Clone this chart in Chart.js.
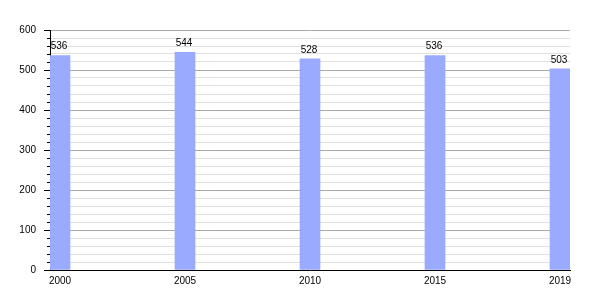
<!DOCTYPE html>
<html>
<head>
<meta charset="utf-8">
<script src="https://cdn.jsdelivr.net/npm/chart.js@4"></script>
<style>
  body { margin: 0; background: #fff; }
  #wrap { width: 600px; height: 300px; }
</style>
</head>
<body>
<div id="wrap"><canvas id="chart"></canvas></div>
<script>
    const years = ['2000', '2005', '2010', '2015', '2019'];
    const values = [536, 544, 528, 536, 503];

    const font = { family: '"Liberation Sans", Arial, sans-serif', size: 10 };

    // value labels above the bars
    const barLabels = {
        id: 'barLabels',
        afterDatasetsDraw(chart) {
            const ctx = chart.ctx;
            const meta = chart.getDatasetMeta(0);
            ctx.save();
            ctx.fillStyle = '#000';
            ctx.font = '10px "Liberation Sans", Arial, sans-serif';
            ctx.textAlign = 'center';
            ctx.textBaseline = 'bottom';
            meta.data.forEach((bar, i) => {
                ctx.fillText(values[i], bar.x - 1, bar.y - 4);
            });
            ctx.restore();
        }
    };

    // small tick marks left of the y axis
    const yTicks = {
        id: 'yTicks',
        afterDraw(chart) {
            const ctx = chart.ctx;
            const y = chart.scales.y;
            const left = chart.chartArea.left;
            ctx.save();
            ctx.strokeStyle = '#000';
            ctx.lineWidth = 1;
            y.ticks.forEach(t => {
                const py = Math.round(y.getPixelForValue(t.value)) + 0.5;
                const len = t.value % 100 === 0 ? 6 : 3;
                ctx.beginPath();
                ctx.moveTo(left - len, py);
                ctx.lineTo(left, py);
                ctx.stroke();
            });
            ctx.restore();
        }
    };

    new Chart(document.getElementById('chart'), {
        type: 'bar',
        data: {
            datasets: [{
                data: values.map((v, i) => ({ x: i, y: v })),
                backgroundColor: '#99aaff',
                barThickness: 20
            }]
        },
        options: {
            responsive: true,
            maintainAspectRatio: false,
            animation: false,
            layout: { padding: { top: 30, right: 30, left: 0, bottom: 0 } },
            plugins: { legend: { display: false }, tooltip: { enabled: false } },
            scales: {
                x: {
                    type: 'linear',
                    offset: false,
                    min: -0.08,
                    max: 4.08,
                    afterBuildTicks: scale => {
                        scale.ticks = years.map((_, i) => ({ value: i }));
                    },
                    afterFit: scale => { scale.height = 30; },
                    grid: { display: false, drawTicks: false },
                    border: { color: '#000' },
                    ticks: {
                        color: '#000',
                        font: font,
                        padding: 5,
                        maxRotation: 0,
                        autoSkip: false,
                        callback: value => years[value]
                    }
                },
                y: {
                    min: 0,
                    max: 600,
                    afterFit: scale => { scale.width = 50; },
                    grid: {
                        drawTicks: false,
                        color: ctx => ctx.tick && ctx.tick.value % 100 === 0 ? '#aaaaaa' : '#e0e0e0'
                    },
                    border: { color: '#000' },
                    ticks: {
                        stepSize: 20,
                        color: '#000',
                        font: font,
                        padding: 14,
                        autoSkip: false,
                        callback: v => v % 100 === 0 ? v : ''
                    }
                }
            }
        },
        plugins: [barLabels, yTicks]
    });
</script>
</body>
</html>
